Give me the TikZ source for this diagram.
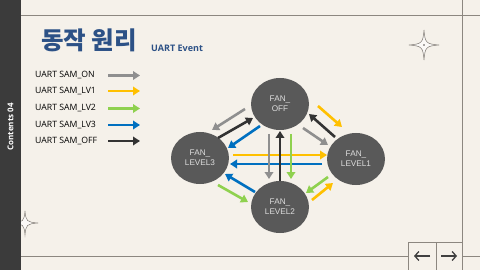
\documentclass[tikz,border=0pt]{standalone}
\usepackage{fontspec}
\setmainfont{Open Sans}
\newfontfamily\krfont{Noto Sans CJK KR}
\newfontfamily\arialfont{Liberation Sans}
\usetikzlibrary{shapes.geometric,arrows.meta}
\definecolor{bg}{HTML}{F5F1EA}
\definecolor{barc}{HTML}{3B3B3B}
\definecolor{framec}{HTML}{8C8780}
\definecolor{titlec}{HTML}{2C5186}
\definecolor{nodec}{HTML}{595959}
\definecolor{ntext}{HTML}{DDDDDD}
\definecolor{cgray}{HTML}{8F8F8F}
\definecolor{cyel}{HTML}{FFC000}
\definecolor{cgrn}{HTML}{8FD14F}
\definecolor{cblu}{HTML}{0070C0}
\definecolor{cblk}{HTML}{333333}
\definecolor{navc}{HTML}{404040}
\tikzset{
  frameline/.style={draw=framec,line width=0.9pt},
  state/.style={ellipse,fill=nodec,minimum width=58pt,minimum height=52pt,inner sep=0pt,
    text=ntext,font=\arialfont\fontsize{8.2}{10}\selectfont,align=center},
  arr/.style={line width=2.6pt,-{Triangle[length=7pt,width=8.5pt]}},
  legtext/.style={anchor=west,inner sep=0pt,font=\fontsize{8.7}{10}\selectfont,text=black},
  navarrow/.style={draw=navc,line width=1.3pt,-{Straight Barb[length=4pt,width=9pt,line width=1.3pt]}},
  sparkle/.pic={
    \draw[draw=framec!90!black,line width=0.5pt,fill=white!60!bg]
      (0,-1) .. controls (0.07,-0.14) and (0.14,-0.07) .. (1,0)
      .. controls (0.14,0.07) and (0.07,0.14) .. (0,1)
      .. controls (-0.07,0.14) and (-0.14,0.07) .. (-1,0)
      .. controls (-0.14,-0.07) and (-0.07,-0.14) .. cycle;
  }
}
\begin{document}
\begin{tikzpicture}[x=1pt,y=-1pt]
\useasboundingbox (0,0) rectangle (480,270);
\fill[bg] (0,0) rectangle (480,270);
% frame lines
\draw[frameline] (21,15) -- (480,15);
\draw[frameline] (462,0) -- (462,270);
\draw[frameline] (21,256) -- (408,256);
\draw[frameline] (462,256) -- (480,256);
\draw[frameline] (408,270) -- (408,242) -- (462,242);
\draw[frameline] (436,242) -- (436,270);
% sparkles
\pic[xscale=15,yscale=15] at (424,45) {sparkle};
\fill[framec!60!black] (424,45) circle (0.8pt);
\pic[xscale=13,yscale=12] at (25,223) {sparkle};
% left bar
\fill[barc] (0,0) rectangle (21,270);
\node[rotate=90,text=white,font=\bfseries\fontsize{8}{10}\selectfont,inner sep=0pt] (cont) at (10.5,127) {Contents 04};
% title
\node[anchor=base west,inner sep=0pt,text=titlec,font=\krfont\bfseries\fontsize{24.5}{27}\selectfont] (title) at (41,50) {동작 원리};
\node[anchor=base west,inner sep=0pt,text=titlec,font=\bfseries\fontsize{9}{11}\selectfont] (sub) at (151,51.5) {UART Event};
% legend
\node[legtext] (l1t) at (35,75.5) {UART SAM\_ON};
\node[legtext] (l2t) at (35,91) {UART SAM\_LV1};
\node[legtext] (l3t) at (35,108.5) {UART SAM\_LV2};
\node[legtext] (l4t) at (35,125) {UART SAM\_LV3};
\node[legtext] (l5t) at (35,141) {UART SAM\_OFF};
\coordinate (a1s) at (108,75.5); \coordinate (a1e) at (140,75.5);
\coordinate (a2s) at (108,91);   \coordinate (a2e) at (140,91);
\coordinate (a3s) at (108,108.5);\coordinate (a3e) at (140,108.5);
\coordinate (a4s) at (108,125);  \coordinate (a4e) at (140,125);
\coordinate (a5s) at (108,141);  \coordinate (a5e) at (140,141);
\draw[arr,cgray] (a1s) -- (a1e);
\draw[arr,cyel] (a2s) -- (a2e);
\draw[arr,cgrn] (a3s) -- (a3e);
\draw[arr,cblu] (a4s) -- (a4e);
\draw[arr,cblk] (a5s) -- (a5e);
% states
\node[state] (off) at (280,104) {FAN\_\\OFF};
\node[state] (lv3) at (200,158) {FAN\_\\LEVEL3};
\node[state] (lv1) at (356,159) {FAN\_\\LEVEL1};
\node[state] (lv2) at (280,207) {FAN\_\\LEVEL2};
% OFF - LV3
\draw[arr,cgray] ([shift={(-35,5)}]off.center) -- ([shift={(12,-28)}]lv3.center);
\draw[arr,cblk] ([shift={(18,-20)}]lv3.center) -- ([shift={(-27,14)}]off.center);
\draw[arr,cblu] ([shift={(-20,22)}]off.center) -- ([shift={(28,-10)}]lv3.center);
% LV3 - LV1
\draw[arr,cyel] ([shift={(33,-3)}]lv3.center) -- ([shift={(-29,-4)}]lv1.center);
\draw[arr,cblu] ([shift={(-34,5)}]lv1.center) -- ([shift={(30,6)}]lv3.center);
% OFF - LV2
\draw[arr,cgray] ([shift={(-11,30)}]off.center) -- ([shift={(-11,-28)}]lv2.center);
\draw[arr,cblk] ([shift={(0,-26)}]lv2.center) -- ([shift={(0,27)}]off.center);
\draw[arr,cgrn] ([shift={(11,30)}]off.center) -- ([shift={(11,-28)}]lv2.center);
% OFF - LV1
\draw[arr,cyel] ([shift={(38,2)}]off.center) -- ([shift={(-14,-32)}]lv1.center);
\draw[arr,cblk] ([shift={(-21,-22)}]lv1.center) -- ([shift={(29,10)}]off.center);
\draw[arr,cgray] ([shift={(23,24)}]off.center) -- ([shift={(-28,-14)}]lv1.center);
% LV1 - LV2
\draw[arr,cgrn] ([shift={(-28,18)}]lv1.center) -- ([shift={(26,-14)}]lv2.center);
\draw[arr,cyel] ([shift={(32,-7)}]lv2.center) -- ([shift={(-23,24)}]lv1.center);
% LV3 - LV2
\draw[arr,cblu] ([shift={(-25,-15)}]lv2.center) -- ([shift={(25,16)}]lv3.center);
\draw[arr,cgrn] ([shift={(18,27)}]lv3.center) -- ([shift={(-32,-5)}]lv2.center);
% nav buttons
\coordinate (nl1) at (430,256); \coordinate (nl2) at (414,256);
\coordinate (nr1) at (441,256); \coordinate (nr2) at (457,256);
\draw[navarrow] (nl1) -- (nl2);
\draw[navarrow] (nr1) -- (nr2);
\end{tikzpicture}
\end{document}
